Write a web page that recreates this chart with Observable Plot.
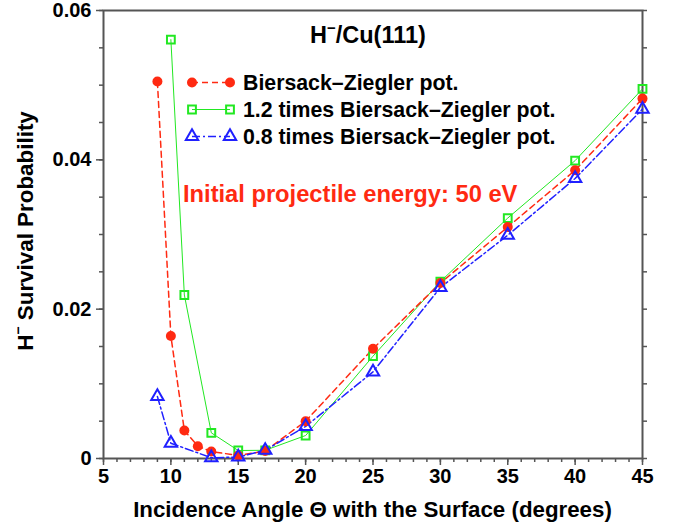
<!DOCTYPE html>
<html>
<head>
<meta charset="utf-8">
<script src="https://cdn.jsdelivr.net/npm/d3@7"></script>
<script src="https://cdn.jsdelivr.net/npm/@observablehq/plot@0.6"></script>
<style>
  html, body { margin: 0; padding: 0; background: #fff; }
  #chart svg { display: block; }
</style>
</head>
<body>
<div id="chart"></div>
<script>
// ---- data ----
const bzAngles   = [9, 10, 11, 12, 13, 15, 17, 20, 25, 30, 35, 40, 45];
const bzValues   = [0.0505, 0.0164, 0.00375, 0.00165, 0.00094, 0.0004, 0.0010, 0.0050, 0.0147, 0.0235, 0.0310, 0.0386, 0.0482];
const bz12Angles = [10, 11, 13, 15, 17, 20, 25, 30, 35, 40, 45];
const bz12Values = [0.0561, 0.0219, 0.00344, 0.00107, 0.0011, 0.00308, 0.0137, 0.0237, 0.0322, 0.0399, 0.0495];
const bz08Angles = [9, 10, 13, 15, 17, 20, 25, 30, 35, 40, 45];
const bz08Values = [0.0083, 0.00205, 0.0001, 0.0002, 0.0011, 0.0043, 0.0116, 0.0229, 0.0299, 0.0375, 0.0468];

const seriesNames = ["Biersack\u2013Ziegler pot.", "1.2 times Biersack\u2013Ziegler pot.", "0.8 times Biersack\u2013Ziegler pot."];
const xMajorTicks = [5, 10, 15, 20, 25, 30, 35, 40, 45];
const xMinorTicks = d3.range(5, 46, 1);
const yMajorTicks = [0, 0.02, 0.04, 0.06];
const yMajorLabels = ["0", "0.02", "0.04", "0.06"];
const yMinorTicks = [0, 0.005, 0.01, 0.015, 0.02, 0.025, 0.03, 0.035, 0.04, 0.045, 0.05, 0.055, 0.06];

const toRows = (xs, ys, s) => xs.map((x, i) => ({angle: x, p: ys[i], series: s}));
const bz   = toRows(bzAngles, bzValues, seriesNames[0]);
const bz12 = toRows(bz12Angles, bz12Values, seriesNames[1]);
const bz08 = toRows(bz08Angles, bz08Values, seriesNames[2]);

const RED = "#ff2a12", GREEN = "#22e822", BLUE = "#2020ff", AX = "#555";
const FONT = "'Liberation Sans', Arial, Helvetica, sans-serif";

const W = 673, H = 527;
const chart = Plot.plot({
  width: W, height: H,
  marginLeft: 103, marginRight: 31, marginTop: 10, marginBottom: 69,
  style: {fontFamily: FONT, fontWeight: "bold", fontSize: "20px", color: "#000", background: "#fff"},
  x: {domain: [5, 45]},
  y: {domain: [0, 0.06]},
  marks: [
    // minor ticks
    Plot.axisX({ticks: xMinorTicks, tickSize: 4, tickFormat: () => "", stroke: AX, strokeWidth: 1.5, label: null}),
    Plot.axisY({ticks: yMinorTicks, tickSize: 4, tickFormat: () => "", stroke: AX, strokeWidth: 1.5, label: null}),
    Plot.axisY({anchor: "right", ticks: yMinorTicks, tickSize: 4, tickFormat: () => "", stroke: AX, strokeWidth: 1.5, label: null}),
    // major ticks with labels
    Plot.axisX({ticks: xMajorTicks, tickSize: 7, tickPadding: 3, stroke: AX, strokeWidth: 1.5, fill: "#000", fontSize: 20, fontWeight: "bold", label: null}),
    Plot.axisY({ticks: yMajorTicks, tickSize: 7, tickPadding: 5, tickFormat: d => yMajorLabels[yMajorTicks.indexOf(d)], stroke: AX, strokeWidth: 1.5, fill: "#000", fontSize: 20, fontWeight: "bold", label: null}),
    Plot.frame({stroke: AX, strokeWidth: 2}),
    // series lines
    Plot.line(bz12, {x: "angle", y: "p", stroke: GREEN, strokeWidth: 1}),
    Plot.line(bz, {x: "angle", y: "p", stroke: RED, strokeWidth: 1.5, strokeDasharray: "6,4"}),
    Plot.line(bz08, {x: "angle", y: "p", stroke: BLUE, strokeWidth: 1.5, strokeDasharray: "8,3,2,3"}),
    // markers
    Plot.dot(bz12, {x: "angle", y: "p", symbol: "square", r: 4.4, stroke: GREEN, strokeWidth: 2, fill: "none"}),
    Plot.dot(bz, {x: "angle", y: "p", symbol: "circle", r: 5, fill: RED, stroke: "none"}),
    Plot.dot(bz08, {x: "angle", y: "p", symbol: "triangle", r: 4.6, stroke: BLUE, strokeWidth: 2, fill: "none"})
  ]
});
document.getElementById("chart").appendChild(chart);

// ---- annotations & legend ----
const svg = d3.select(chart);
const g = svg.append("g").attr("font-family", FONT).attr("font-weight", "bold").attr("text-anchor", "start");

// title
const title = g.append("text").attr("x", 310).attr("y", 43).attr("font-size", 23.5).attr("fill", "#000");
title.append("tspan").text("H");
title.append("tspan").attr("font-size", 15).attr("dy", -10).text("\u2212");
title.append("tspan").attr("dy", 10).text("/Cu(111)");

// x label
g.append("text").attr("x", 372.5).attr("y", 517).attr("text-anchor", "middle").attr("font-size", 22.3)
  .attr("fill", "#000").text("Incidence Angle \u0398 with the Surface (degrees)");

// y label
const yl = g.append("text").attr("transform", "translate(33,231) rotate(-90)").attr("text-anchor", "middle")
  .attr("font-size", 22.4).attr("fill", "#000");
yl.append("tspan").text("H");
yl.append("tspan").attr("font-size", 14).attr("dy", -10).text("\u2212");
yl.append("tspan").attr("dy", 10).text(" Survival Probability");

// energy annotation
g.append("text").attr("x", 183).attr("y", 202.3).attr("font-size", 23.7).attr("fill", RED)
  .text("Initial projectile energy: 50 eV");

// legend
const legRows = [
  {name: seriesNames[0], color: RED, dash: "6,4", w: 1.5, sym: d3.symbolCircle, size: Math.PI * 25, fill: RED, stroke: "none", y: 82.5},
  {name: seriesNames[1], color: GREEN, dash: null, w: 1, sym: d3.symbolSquare, size: Math.PI * 4.4 * 4.4, fill: "none", stroke: GREEN, y: 109.5},
  {name: seriesNames[2], color: BLUE, dash: "8,3,2,3", w: 1.5, sym: d3.symbolTriangle, size: Math.PI * 4.6 * 4.6, fill: "none", stroke: BLUE, y: 136.5}
];
for (const r of legRows) {
  g.append("line").attr("x1", 192).attr("x2", 230).attr("y1", r.y).attr("y2", r.y)
    .attr("stroke", r.color).attr("stroke-width", r.w).attr("stroke-dasharray", r.dash);
  for (const x of [192, 230]) {
    g.append("path").attr("d", d3.symbol(r.sym, r.size)()).attr("transform", `translate(${x},${r.y})`)
      .attr("fill", r.fill).attr("stroke", r.stroke).attr("stroke-width", 2);
  }
  g.append("text").attr("x", 243).attr("y", r.y + 7.5).attr("font-size", 21.3).attr("fill", "#000").text(r.name);
}
</script>
</body>
</html>
